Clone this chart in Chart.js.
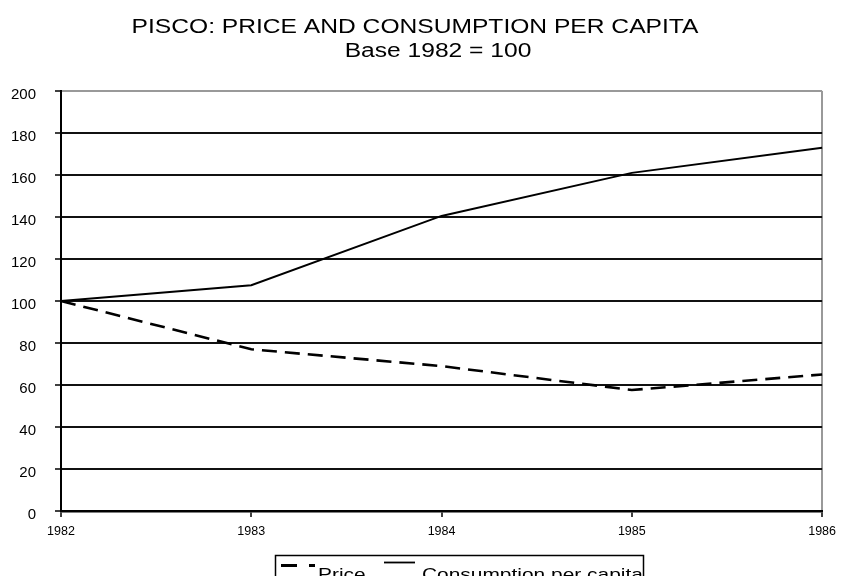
<!DOCTYPE html>
<html>
<head>
<meta charset="utf-8">
<script src="https://cdn.jsdelivr.net/npm/chart.js@4.4.1/dist/chart.umd.min.js"></script>
<style>
  html, body { margin: 0; padding: 0; background: #fff; }
  #wrap { width: 843px; height: 576px; position: relative; }
</style>
</head>
<body>
<div id="wrap"><canvas id="chart" width="843" height="576"></canvas></div>
<script>
const years = ["1982", "1983", "1984", "1985", "1986"];
const priceIndex = [100, 77, 69, 57.6, 65];
const consumptionIndex = [100, 107.5, 140.5, 161, 173];
const yTicks = [0, 20, 40, 60, 80, 100, 120, 140, 160, 180, 200];

const titleLines = ["PISCO: PRICE AND CONSUMPTION PER CAPITA", "Base 1982 = 100"];
const legendLabels = ["Price", "Consumption per capita"];

const FONT = "'Liberation Sans', Arial, sans-serif";
const STRETCH = 1.23;

// draws stretched text with its left edge at x
const wideText = (ctx, text, x, y, size) => {
    ctx.save();
    ctx.font = size + "px " + FONT;
    ctx.textAlign = "left";
    ctx.textBaseline = "alphabetic";
    ctx.translate(x, y);
    ctx.scale(STRETCH, 1);
    ctx.fillStyle = "#000";
    ctx.fillText(text, 0, 0);
    ctx.restore();
};

const textWidth = (ctx, text, size) => {
    ctx.save();
    ctx.font = size + "px " + FONT;
    const w = ctx.measureText(text).width * STRETCH;
    ctx.restore();
    return w;
};

const decorPlugin = {
    id: "decor",
    afterDraw(chart) {
        const ctx = chart.ctx;
        // titles
        const w0 = textWidth(ctx, titleLines[0], 20);
        wideText(ctx, titleLines[0], 415 - w0 / 2, 33, 20);
        const w1 = textWidth(ctx, titleLines[1], 20);
        wideText(ctx, titleLines[1], 438 - w1 / 2, 57, 20);

        // legend box
        ctx.save();
        ctx.strokeStyle = "#000";
        ctx.lineWidth = 1.5;
        ctx.strokeRect(275.5, 555.5, 368, 30);

        ctx.lineWidth = 3;
        ctx.beginPath();
        ctx.moveTo(281, 565.5); ctx.lineTo(297, 565.5);
        ctx.moveTo(309, 565.5); ctx.lineTo(315, 565.5);
        ctx.stroke();

        ctx.lineWidth = 1.8;
        ctx.beginPath();
        ctx.moveTo(384, 562.5); ctx.lineTo(415, 562.5);
        ctx.stroke();
        ctx.restore();

        wideText(ctx, legendLabels[0], 318, 580, 17);
        wideText(ctx, legendLabels[1], 422, 580, 17);
    }
};

new Chart(document.getElementById("chart"), {
    type: "line",
    data: {
        labels: years,
        datasets: [
            {
                label: legendLabels[0],
                data: priceIndex,
                borderColor: "#000",
                borderWidth: 2.6,
                borderDash: [15, 8],
                pointRadius: 0,
                tension: 0,
                fill: false
            },
            {
                label: legendLabels[1],
                data: consumptionIndex,
                borderColor: "#000",
                borderWidth: 1.9,
                pointRadius: 0,
                tension: 0,
                fill: false
            }
        ]
    },
    options: {
        responsive: false,
        animation: false,
        layout: { padding: { left: 0, right: 18, top: 91, bottom: 35 } },
        plugins: {
            legend: { display: false },
            title: { display: false },
            tooltip: { enabled: false }
        },
        scales: {
            x: {
                type: "category",
                offset: false,
                afterFit: s => { s.height = 30; },
                grid: {
                    drawOnChartArea: true,
                    color: c => (c.index === years.length - 1 ? "#999" : "rgba(0,0,0,0)"),
                    lineWidth: 2,
                    tickColor: "#000",
                    tickLength: 6,
                    tickWidth: 1.5
                },
                border: { display: true, color: "#000", width: 2.5 },
                ticks: {
                    color: "#000",
                    font: { family: FONT, size: 12.5 },
                    padding: 7,
                    maxRotation: 0,
                    autoSkip: false
                }
            },
            y: {
                min: 0,
                max: 200,
                afterFit: s => { s.width = 61; },
                afterBuildTicks: s => { s.ticks = yTicks.map(v => ({ value: v })); },
                grid: {
                    color: c => (c.tick && c.tick.value === 200 ? "#999" : "#111"),
                    lineWidth: 2,
                    tickColor: "#000",
                    tickLength: 6,
                    tickWidth: 1.5
                },
                border: { display: true, color: "#000", width: 2 },
                ticks: {
                    color: "#000",
                    font: { family: FONT, size: 15 },
                    padding: 19,
                    labelOffset: 4
                }
            }
        }
    },
    plugins: [decorPlugin]
});
</script>
</body>
</html>
